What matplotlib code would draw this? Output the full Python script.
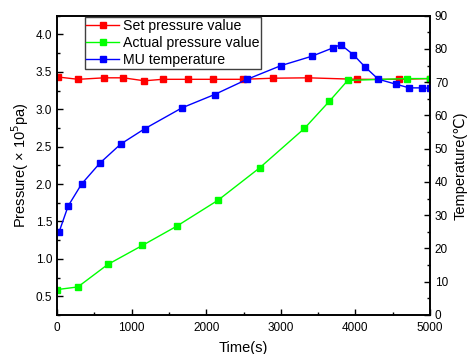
import matplotlib
matplotlib.use("Agg")
import matplotlib.pyplot as plt
from matplotlib.ticker import MultipleLocator, FormatStrFormatter

plt.rcParams['font.family'] = ['Liberation Sans', 'DejaVu Sans']

# Set pressure (x10^5 Pa)
set_t = [20, 285, 635, 890, 1170, 1415, 1750, 2090, 2490, 2900, 3370, 4020, 4590, 5000]
set_p = [3.43, 3.40, 3.42, 3.42, 3.38, 3.40, 3.40, 3.40, 3.40, 3.415, 3.42, 3.40, 3.40, 3.41]

# Actual pressure (x10^5 Pa)
act_t = [5, 280, 680, 1145, 1605, 2160, 2717, 3316, 3652, 3897, 4688, 5000]
act_p = [0.59, 0.625, 0.925, 1.18, 1.437, 1.785, 2.217, 2.743, 3.108, 3.385, 3.41, 3.41]

# MU temperature (C)
mu_t = [30, 150, 330, 576, 854, 1175, 1676, 2112, 2551, 3003, 3414, 3696, 3803,
        3972, 4129, 4307, 4544, 4723, 4888, 5000]
mu_T = [25.1, 32.8, 39.4, 45.7, 51.4, 56.0, 62.3, 66.3, 70.9, 75.0, 77.8, 80.3, 81.3,
        78.3, 74.6, 70.9, 69.4, 68.3, 68.3, 68.2]

fig = plt.figure(figsize=(4.68, 3.54), dpi=100)
ax = fig.add_axes([0.1218, 0.1102, 0.797, 0.8454])
ax2 = ax.twinx()

l1, = ax.plot(set_t, set_p, '-s', color='#ff0000', lw=1, ms=5, label='Set pressure value')
l2, = ax.plot(act_t, act_p, '-s', color='#00ff00', lw=1, ms=5, label='Actual pressure value')
l3, = ax2.plot(mu_t, mu_T, '-s', color='#0000ff', lw=1, ms=5, label='MU temperature')

ax.set_xlim(0, 5000)
ax.set_ylim(0.25, 4.25)
ax2.set_ylim(0, 90)

ax.xaxis.set_major_locator(MultipleLocator(1000))
ax.xaxis.set_minor_locator(MultipleLocator(500))
ax.yaxis.set_major_locator(MultipleLocator(0.5))
ax.yaxis.set_minor_locator(MultipleLocator(0.25))
ax2.yaxis.set_major_locator(MultipleLocator(10))
ax2.yaxis.set_minor_locator(MultipleLocator(5))

for a in (ax, ax2):
    a.tick_params(which='both', direction='in', labelsize=8.5, width=1)
    a.tick_params(which='major', length=4)
    a.tick_params(which='minor', length=2.5)
    for s in a.spines.values():
        s.set_linewidth(1.2)
ax.tick_params(axis='x', pad=5)
ax.yaxis.set_major_formatter(FormatStrFormatter('%.1f'))

ax.set_xlabel('Time(s)', fontsize=10.5, labelpad=5)
ax.set_ylabel('Pressure( \u00d7 10$^5$pa)', fontsize=10.5)
ax.yaxis.set_label_coords(-0.07, 0.5)
ax2.set_ylabel('Temperature(\u2103)', fontsize=10.5)
ax2.yaxis.set_label_coords(1.062, 0.5)

leg = ax2.legend(handles=[l1, l2, l3], loc='upper left', bbox_to_anchor=(0.075, 0.995),
                 fontsize=10.2, frameon=True, fancybox=False, borderpad=0.1,
                 labelspacing=0.24, handlelength=2.3, handletextpad=0.3,
                 borderaxespad=0, framealpha=1)
leg.get_frame().set_edgecolor('#404040')
leg.get_frame().set_linewidth(1)

fig.savefig('out.png', dpi=100)
